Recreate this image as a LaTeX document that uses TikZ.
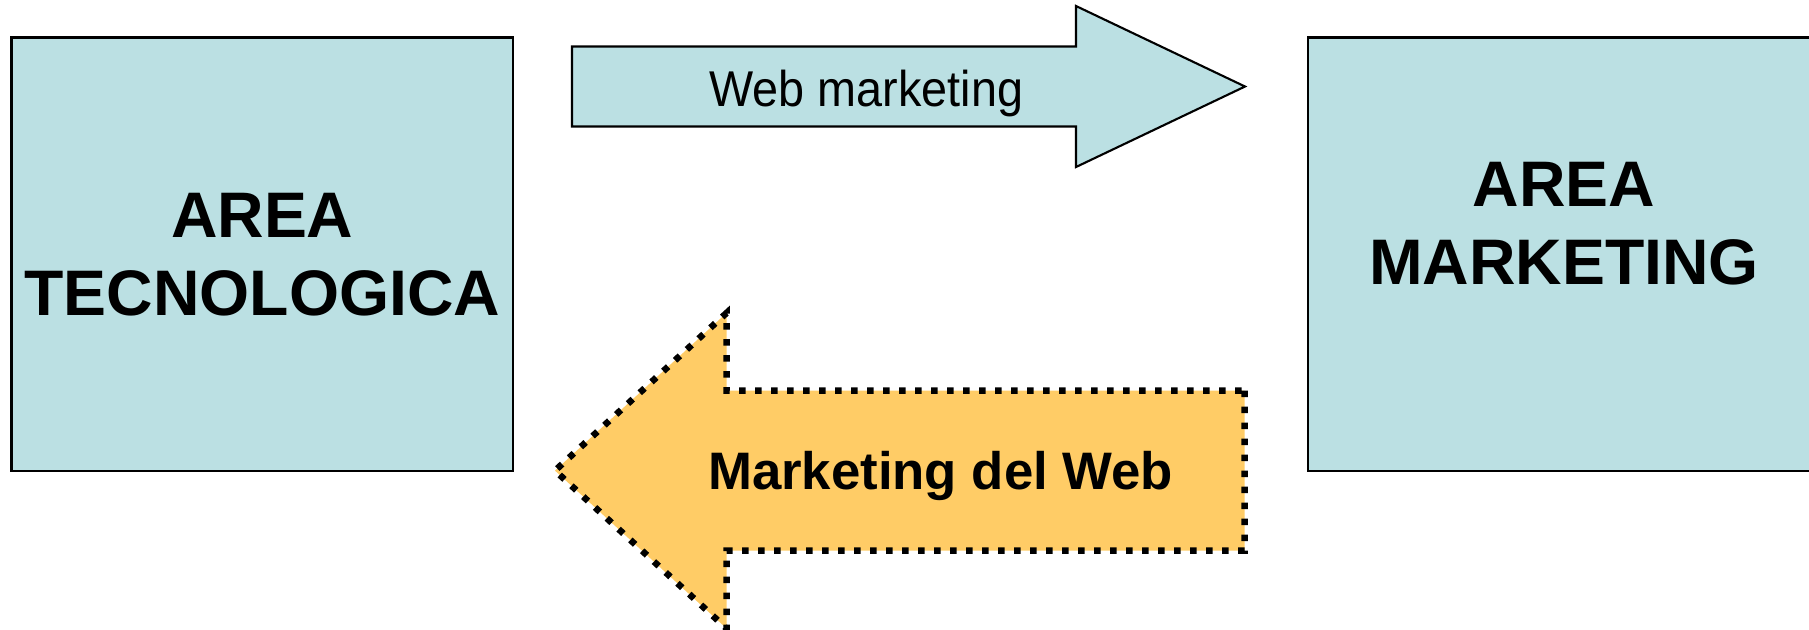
\documentclass[tikz,border=0pt]{standalone}
\usepackage{fontspec}
\setmainfont{Liberation Sans}
\newfontfamily\narrowsans{Liberation Sans}[FakeStretch=0.93]
\definecolor{areablue}{RGB}{187,224,227}
\definecolor{webgold}{RGB}{255,204,102}
\begin{document}
\begin{tikzpicture}[x=0.01cm,y=-0.01cm,
    areabox/.style={draw=black,line width=0.75pt,fill=areablue,inner sep=0pt,
        minimum height=4.33cm},
    areatext/.style={align=center,font=\fontsize{18.3}{22.1}\selectfont\bfseries},
    webarrow/.style={draw=black,line width=0.6pt,fill=areablue,line join=miter},
    goldarrow/.style={draw=black,line width=1.85pt,fill=webgold,
        dash pattern=on 1.85pt off 2.7pt}]
    \useasboundingbox (0,0) rectangle (1809,629);
    \clip (0,0) rectangle (1809,629);
    % the two areas
    \node [areabox,minimum width=5.015cm] (tec) at (262.25,254.35) {};
    \node [areatext] (tectxt) at (tec.center) {AREA\\TECNOLOGICA};
    \node [areabox,minimum width=5.12cm] (mkt) at (1564,254.35) {};
    \node [areatext] (mkttxt) at ([yshift=0.31cm]mkt.center) {AREA\\MARKETING};
    % Web marketing
    \draw [webarrow] (572,46.5) -- (1076,46.5) -- (1076,6) -- (1245,86.5)
        -- (1076,167) -- (1076,126.5) -- (572,126.5) -- cycle;
    \node [anchor=base,font=\narrowsans\fontsize{14.3}{17}\selectfont] (webtxt)
        at (866.5,106.7) {Web marketing};
    % Marketing del Web
    \draw [goldarrow] (1244.5,390.5) -- (1244.5,550.7) -- (726.5,550.7)
        -- (726.5,628.4) -- (555,470.6) -- (726.5,313) -- (726.5,390.5) -- cycle;
    \node [anchor=base,font=\fontsize{15}{18}\selectfont\bfseries] (mdwtxt)
        at (940.6,489.3) {Marketing del Web};
\end{tikzpicture}
\end{document}
